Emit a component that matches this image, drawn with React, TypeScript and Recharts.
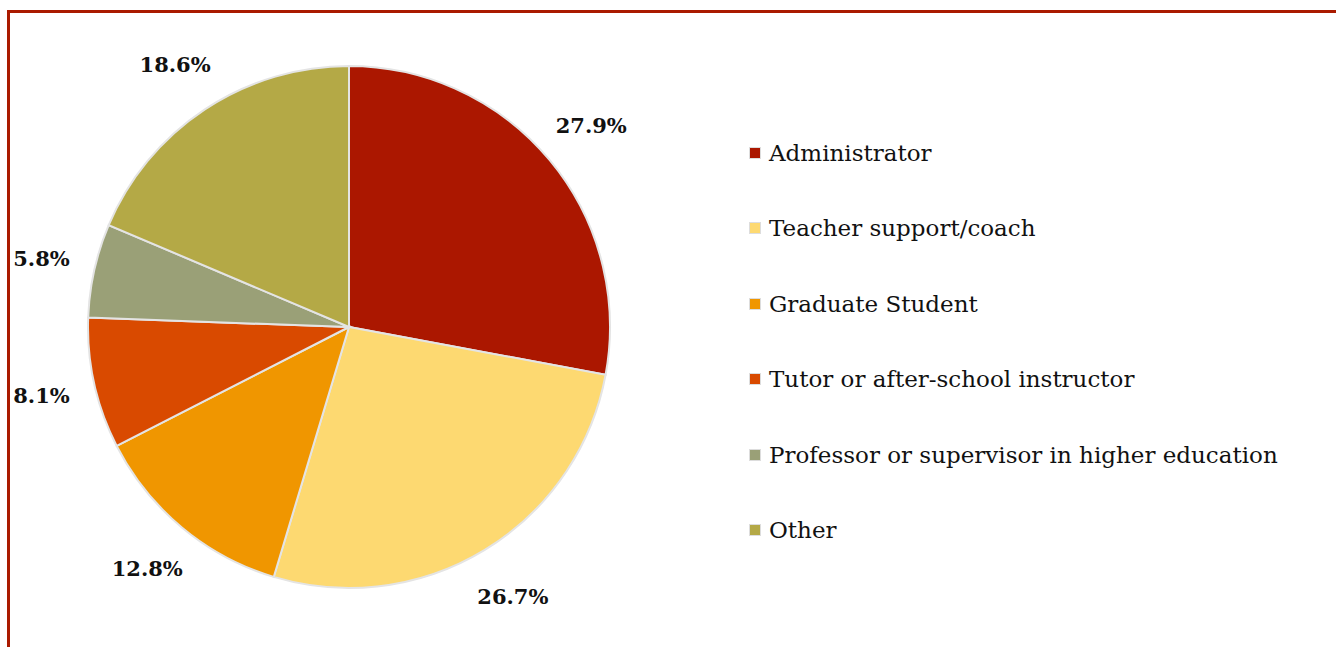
import { Legend, Pie, PieChart, Cell } from "recharts";

const categories = [
  "Administrator",
  "Teacher support/coach",
  "Graduate Student",
  "Tutor or after-school instructor",
  "Professor or supervisor in higher education",
  "Other",
];
const shares = [27.9, 26.7, 12.8, 8.1, 5.8, 18.6];
const colors = ["#ab1700", "#fdd971", "#f09600", "#d94a00", "#9aa077", "#b4a946"];

const data = categories.map((name, i) => ({ name, value: shares[i] }));

const FONT = "'DejaVu Serif', serif";
const RAD = Math.PI / 180;

function renderLabel(props: any) {
  const { cx, cy, midAngle, outerRadius, value } = props;
  const r = outerRadius + 54;
  const x = cx + r * Math.cos(-midAngle * RAD);
  const y = cy + r * Math.sin(-midAngle * RAD);
  return (
    <text
      x={x}
      y={y}
      textAnchor="middle"
      dominantBaseline="central"
      fontFamily={FONT}
      fontWeight="bold"
      fontSize={21}
      fill="#111"
    >
      {`${value.toFixed(1)}%`}
    </text>
  );
}

function renderLegend() {
  return (
    <div style={{ fontFamily: FONT, fontSize: 23, color: "#111" }}>
      {categories.map((name, i) => (
        <div
          key={name}
          style={{ display: "flex", alignItems: "center", height: 75.5 }}
        >
          <span
            style={{
              display: "inline-block",
              width: 10,
              height: 10,
              background: colors[i],
              border: "1px solid #ddd",
              marginRight: 8,
            }}
          />
          <span>{name}</span>
        </div>
      ))}
    </div>
  );
}

export default function App() {
  return (
    <div
      style={{
        position: "absolute",
        left: 0,
        top: 0,
        width: 1336,
        height: 647,
        background: "#fff",
        overflow: "hidden",
      }}
    >
      <div
        style={{
          position: "absolute",
          left: 7,
          top: 10,
          width: 1400,
          height: 700,
          borderTop: "3px solid #aa1a00",
          borderLeft: "3px solid #aa1a00",
        }}
      />
      <div style={{ position: "absolute", left: 0, top: 0 }}>
        <PieChart width={1336} height={647} margin={{ top: 0, right: 0, bottom: 0, left: 0 }}>
          <Pie
            data={data}
            dataKey="value"
            nameKey="name"
            cx={349}
            cy={327}
            outerRadius={261}
            startAngle={90}
            endAngle={-270}
            stroke="#e4e4e4"
            strokeWidth={2}
            label={renderLabel}
            labelLine={false}
            isAnimationActive={false}
          >
            {data.map((d, i) => (
              <Cell key={d.name} fill={colors[i]} />
            ))}
          </Pie>
          <Legend
            layout="vertical"
            align="right"
            verticalAlign="top"
            content={renderLegend}
            wrapperStyle={{ left: 749, top: 115, width: 580 }}
          />
        </PieChart>
      </div>
    </div>
  );
}
